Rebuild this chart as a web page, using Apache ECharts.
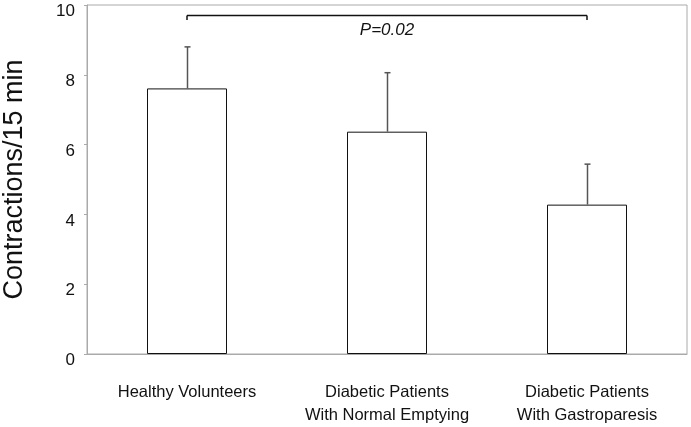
<!DOCTYPE html>
<html><head><meta charset="utf-8">
<script src="https://cdn.jsdelivr.net/npm/echarts@6/dist/echarts.min.js"></script>
<style>html,body{margin:0;padding:0;background:#fff}#c{width:691px;height:427px}</style>
</head><body><div id="c"></div>
<script>
const categories = ['Healthy Volunteers', 'Diabetic Patients\nWith Normal Emptying', 'Diabetic Patients\nWith Gastroparesis'];
const means = [7.61, 6.37, 4.28];
const upperErr = [8.80, 8.06, 5.44];
const yTicks = [0, 2, 4, 6, 8, 10];
const bracketFrom = 0, bracketTo = 2, bracketLevel = 9.71, bracketDrop = 9.57;
const pLabel = 'P=0.02';
const pLevel = 9.28;

const FONT = '"Liberation Sans", Arial, Helvetica, sans-serif';
const chart = echarts.init(document.getElementById('c'), null, {renderer: 'canvas'});
chart.setOption({
  animation: false,
  backgroundColor: '#fff',
  grid: {left: 87, top: 5, right: 4, bottom: 73, show: true, borderColor: '#aaa', borderWidth: 1,
         containLabel: false, outerBoundsMode: 'none'},
  xAxis: {
    type: 'category', data: categories,
    axisLine: {show: true, lineStyle: {color: '#aaa'}},
    axisTick: {show: false},
    axisLabel: {color: '#111', fontFamily: FONT, fontSize: 16.5, margin: 27, lineHeight: 23, interval: 0}
  },
  yAxis: {
    type: 'value', min: yTicks[0], max: yTicks[yTicks.length - 1], interval: 2,
    name: 'Contractions/15 min', nameLocation: 'middle', nameGap: 59,
    nameTextStyle: {fontFamily: FONT, fontSize: 27, color: '#111'},
    axisLine: {show: true, lineStyle: {color: '#aaa'}},
    axisTick: {show: true, length: 3, lineStyle: {color: '#aaa'}},
    splitLine: {show: false},
    axisLabel: {color: '#111', fontFamily: FONT, fontSize: 17, margin: 12, verticalAlign: 'top', lineHeight: 13}
  },
  series: [
    {
      type: 'bar', data: means, barWidth: '40%',
      itemStyle: {color: '#fff', borderColor: '#111', borderWidth: 1},
      z: 2
    },
    {
      type: 'custom', z: 3,
      data: means.map((m, i) => [i, m, upperErr[i]]),
      renderItem: function (params, api) {
        const i = api.value(0);
        const lo = api.coord([i, api.value(1)]);
        const hi = api.coord([i, api.value(2)]);
        const x = Math.round(lo[0]) + 0.5;
        return {type: 'group', children: [
          {type: 'line', shape: {x1: x, y1: lo[1], x2: x, y2: hi[1]}, style: {stroke: '#555', lineWidth: 1.5}},
          {type: 'line', shape: {x1: x - 3, y1: hi[1], x2: x + 3, y2: hi[1]}, style: {stroke: '#555', lineWidth: 1.5}}
        ]};
      }
    },
    {
      type: 'custom', z: 4,
      data: [[bracketFrom, bracketTo, bracketLevel, bracketDrop, pLevel]],
      renderItem: function (params, api) {
        const a = api.coord([api.value(0), api.value(2)]);
        const b = api.coord([api.value(1), api.value(2)]);
        const d = api.coord([api.value(0), api.value(3)]);
        const p = api.coord([(api.value(0) + api.value(1)) / 2, api.value(4)]);
        const y = Math.round(a[1]) + 0.5;
        return {type: 'group', children: [
          {type: 'line', shape: {x1: a[0], y1: y, x2: b[0], y2: y}, style: {stroke: '#111', lineWidth: 1.5}},
          {type: 'line', shape: {x1: a[0], y1: y, x2: a[0], y2: d[1]}, style: {stroke: '#111', lineWidth: 1.5}},
          {type: 'line', shape: {x1: b[0], y1: y, x2: b[0], y2: d[1]}, style: {stroke: '#111', lineWidth: 1.5}},
          {type: 'text', x: p[0], y: p[1], style: {text: pLabel, fontFamily: FONT, fontSize: 17, fontStyle: 'italic', fill: '#111', align: 'center', verticalAlign: 'middle'}}
        ]};
      }
    }
  ]
});
</script></body></html>
